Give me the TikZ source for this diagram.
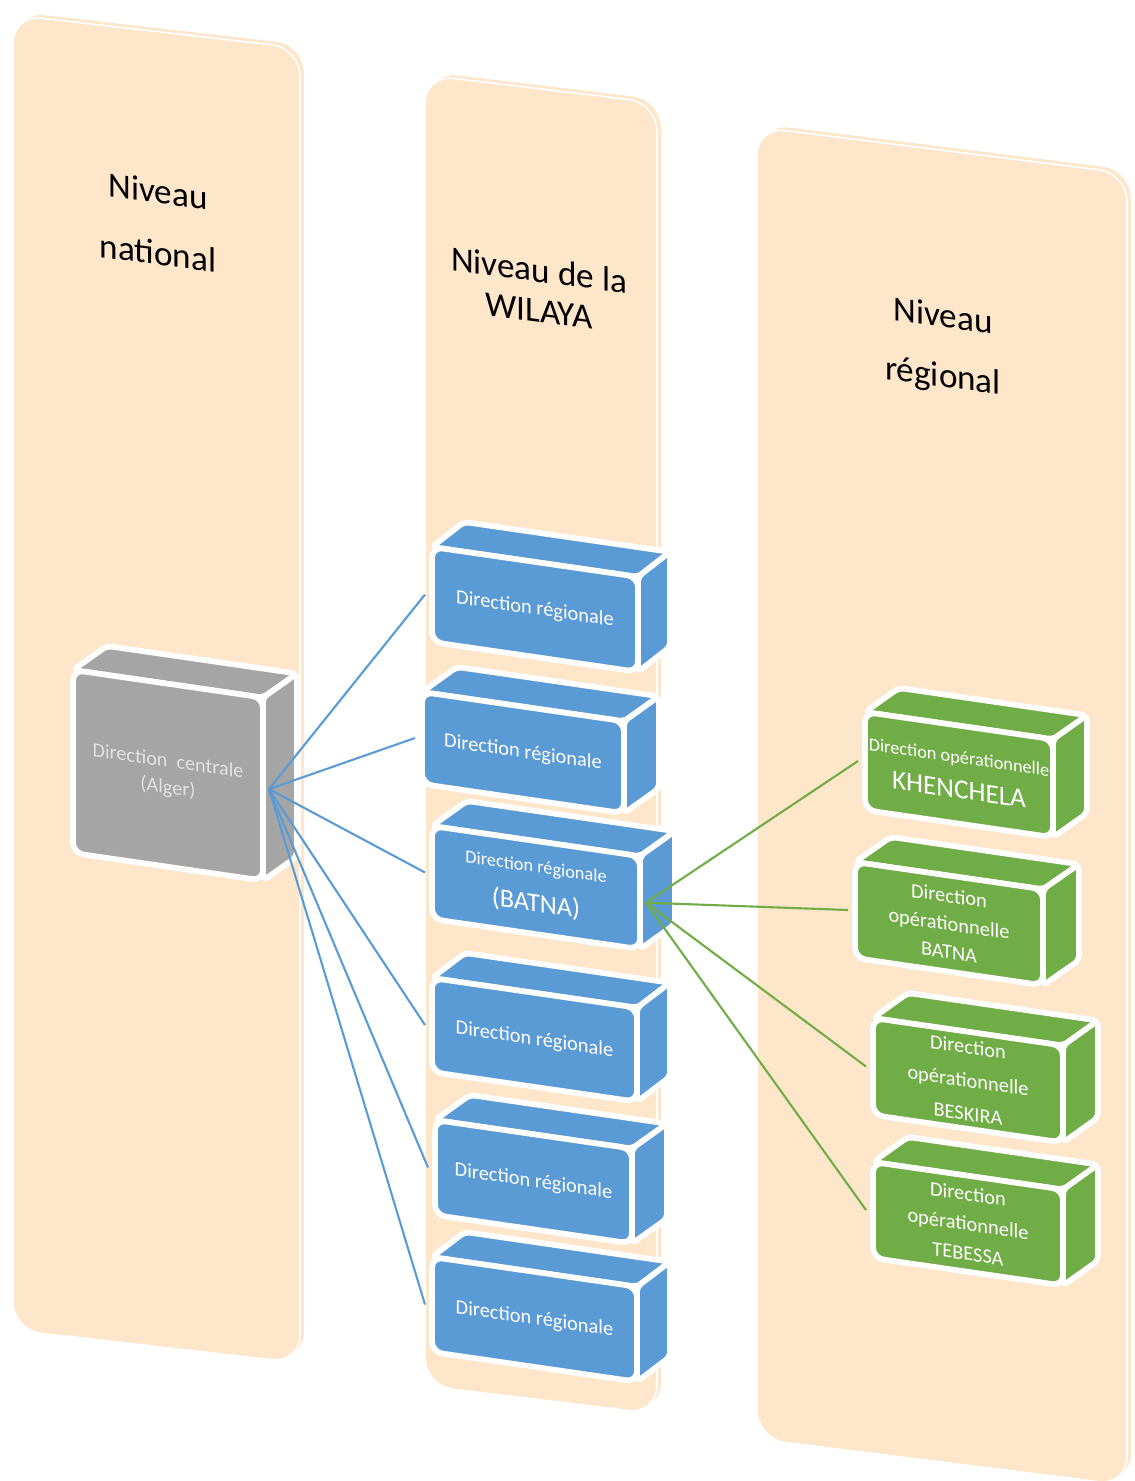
\documentclass[tikz,border=0pt]{standalone}
\usepackage{fontspec}
\setmainfont{Carlito}
\definecolor{panel}{HTML}{FEE6CA}
\definecolor{regblue}{HTML}{5B9BD5}
\definecolor{opgreen}{HTML}{70AD47}
\definecolor{centgray}{HTML}{A5A5A5}
\definecolor{centtext}{HTML}{E2E2E2}

% slope of the front edges of the blocks (perspective)
\newcommand{\bslope}{0.145}

% \block{name}{x}{y}{width}{height}{depth dx}{depth dy}{colour}
\newcommand{\block}[8]{%
  \pgfmathsetmacro{\bXa}{#2}%
  \pgfmathsetmacro{\bYa}{#3}%
  \pgfmathsetmacro{\bXb}{#2+#4}%
  \pgfmathsetmacro{\bYb}{#3+\bslope*#4}%
  \pgfmathsetmacro{\bYc}{#3+#5}%
  \pgfmathsetmacro{\bYd}{#3+\bslope*#4+#5}%
  \pgfmathsetmacro{\bXe}{#2+(#6)}%
  \pgfmathsetmacro{\bYe}{#3+(#7)}%
  \pgfmathsetmacro{\bXf}{#2+#4+(#6)}%
  \pgfmathsetmacro{\bYf}{#3+\bslope*#4+(#7)}%
  \pgfmathsetmacro{\bYg}{#3+\bslope*#4+#5+(#7)}%
  \path[face,fill=#8,rounded corners=3pt] (\bXa,\bYa) -- (\bXe,\bYe) -- (\bXf,\bYf) -- (\bXb,\bYb) -- cycle;
  \path[face,fill=#8,rounded corners=3pt] (\bXb,\bYb) -- (\bXf,\bYf) -- (\bXf,\bYg) -- (\bXb,\bYd) -- cycle;
  \path[face,fill=#8,rounded corners=6pt] (\bXa,\bYa) -- (\bXb,\bYb) -- (\bXb,\bYd) -- (\bXa,\bYc) -- cycle;
  \coordinate (#1-c) at ({(\bXa+\bXb)/2},{(\bYa+\bYd)/2});
  \coordinate (#1-w) at ({\bXa-7},{(\bYa+\bYc)/2});
  \coordinate (#1-e) at ({\bXb+6},{(\bYb+\bYd)/2});
}

% \panelcol{x}{y}{width}{height}{slope}
\newcommand{\panelcol}[5]{%
  \pgfmathsetmacro{\pXb}{#1+#3}%
  \pgfmathsetmacro{\pYb}{#2+#5*#3}%
  \pgfmathsetmacro{\pYc}{#2+#4}%
  \pgfmathsetmacro{\pYd}{#2+#5*#3+#4}%
  \begin{scope}[shift={(4,-3)}]
    \path[fill=panel,rounded corners=16pt] (#1,#2) -- (\pXb,\pYb) -- (\pXb,\pYd) -- (#1,\pYc) -- cycle;
  \end{scope}
  \path[fill=panel,draw=white,line width=0.9pt,rounded corners=16pt] (#1,#2) -- (\pXb,\pYb) -- (\pXb,\pYd) -- (#1,\pYc) -- cycle;
}

\begin{document}
\begin{tikzpicture}[x=0.02cm,y=-0.02cm,
  face/.style={draw=white,line width=3.2pt,line join=round},
  boxtext/.style={text=white,align=center,inner sep=0pt,yslant=-0.145},
  title/.style={text=black,align=center,inner sep=0pt,yslant=-0.13},
  bline/.style={draw=regblue,line width=1.2pt},
  gline/.style={draw=opgreen,line width=1.2pt}]
\useasboundingbox (0,0) rectangle (1134,1481);

% the three level columns
\panelcol{13}{15}{287}{1315}{0.115}
\panelcol{425}{75}{232}{1311}{0.12}
\panelcol{757}{127}{370}{1312}{0.125}

\node[title,font=\fontsize{20}{35}\selectfont] (t1) at (158,222) {Niveau\\national};
\node[title,font=\fontsize{20}{23}\selectfont] (t2) at (539,290) {Niveau de la\\WILAYA};
\node[title,font=\fontsize{20}{34}\selectfont] (t3) at (943,348) {Niveau\\régional};

% central direction
\block{gc}{73}{670}{190}{183}{34}{-24}{centgray}
\node[boxtext,text=centtext,font=\fontsize{11.5}{15}\selectfont] (gc) at (gc-c) {Direction\hspace{0.45em}centrale\\(Alger)};

% regional directions
\block{b1}{432}{547}{206}{95}{32}{-25}{regblue}
\node[boxtext,font=\fontsize{11.6}{14}\selectfont] (b1) at (b1-c) {Direction régionale};
\block{b2}{422}{692}{202}{92}{35}{-25}{regblue}
\node[boxtext,font=\fontsize{11.6}{14}\selectfont] (b2) at (b2-c) {Direction régionale};
\block{b3}{432}{826}{208}{93}{35}{-25}{regblue}
\node[boxtext,font=\fontsize{10.4}{22}\selectfont] (b3) at (b3-c) {Direction régionale\\{\fontsize{15}{22}\selectfont (BATNA)}};
\block{b4}{432}{978}{205}{94}{33}{-25}{regblue}
\node[boxtext,font=\fontsize{11.6}{14}\selectfont] (b4) at (b4-c) {Direction régionale};
\block{b5}{435}{1120}{197}{95}{35}{-25}{regblue}
\node[boxtext,font=\fontsize{11.6}{14}\selectfont] (b5) at (b5-c) {Direction régionale};
\block{b6}{432}{1257}{205}{95}{33}{-25}{regblue}
\node[boxtext,font=\fontsize{11.6}{14}\selectfont] (b6) at (b6-c) {Direction régionale};

% operational directions
\block{g1}{865}{712}{188}{98}{34}{-24}{opgreen}
\node[boxtext,font=\fontsize{10.4}{20}\selectfont] (g1) at (g1-c) {Direction opérationnelle\\{\fontsize{15.5}{20}\selectfont KHENCHELA}};
\block{g2}{855}{862}{188}{96}{36}{-25}{opgreen}
\node[boxtext,font=\fontsize{11.6}{16}\selectfont] (g2) at (g2-c) {Direction\\opérationnelle\\BATNA};
\block{g3}{873}{1018}{190}{97}{35}{-25}{opgreen}
\node[boxtext,font=\fontsize{11.6}{19}\selectfont] (g3) at (g3-c) {Direction\\opérationnelle\\BESKIRA};
\block{g4}{873}{1162}{190}{96}{35}{-25}{opgreen}
\node[boxtext,font=\fontsize{11.6}{17}\selectfont] (g4) at (g4-c) {Direction\\opérationnelle\\TEBESSA};

% links
\foreach \t in {b1,b2,b3,b4,b5,b6}
  \draw[bline] (gc-e) -- (\t-w);
\foreach \t in {g1,g2,g3,g4}
  \draw[gline] (b3-e) -- (\t-w);
\end{tikzpicture}
\end{document}
